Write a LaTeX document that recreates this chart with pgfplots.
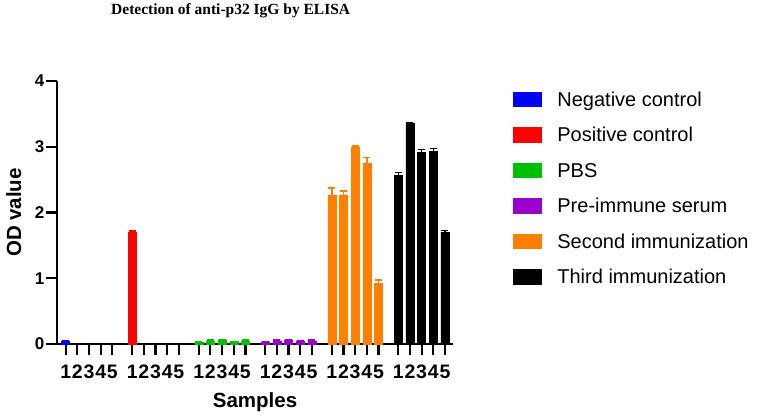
\documentclass[border=0pt]{standalone}
\usepackage{pgfplots}
\pgfplotsset{compat=1.18}
\usepackage{fontspec}
\setmainfont{Liberation Sans}
\newfontfamily\titlefont{Liberation Serif}
\definecolor{cblue}{RGB}{0,0,255}
\definecolor{cred}{RGB}{255,0,0}
\definecolor{cgreen}{RGB}{0,190,0}
\definecolor{cpurple}{RGB}{153,0,204}
\definecolor{corange}{RGB}{255,128,0}
\begin{document}
\begin{tikzpicture}
\useasboundingbox (0pt,0pt) rectangle (765pt,417pt);
\node[anchor=base west, font=\titlefont\bfseries\fontsize{15.5}{19}\selectfont, inner sep=0pt] at (111pt,402pt) {Detection of anti-p32 IgG by ELISA};
\begin{axis}[
  at={(57pt,73pt)}, anchor=south west,
  scale only axis, width=396pt, height=263pt,
  xmin=-0.745, xmax=33.19, ymin=0, ymax=4,
  axis lines=left,
  axis line style={-, line width=2.2pt},
  tick style={line width=2.2pt, black},
  major tick length=11pt, tick align=outside,
  ytick={0,1,2,3,4},
  xtick={0,1,2,3,4,5.7,6.7,7.7,8.7,9.7,11.4,12.4,13.4,14.4,15.4,17.1,18.1,19.1,20.1,21.1,22.8,23.8,24.8,25.8,26.8,28.5,29.5,30.5,31.5,32.5},
  xticklabels={1,2,3,4,5,1,2,3,4,5,1,2,3,4,5,1,2,3,4,5,1,2,3,4,5,1,2,3,4,5},
  /pgf/number format/assume math mode=true,
  tick label style={font=\fontsize{18}{21}\selectfont\bfseries},
  yticklabel style={inner xsep=1.5pt, font=\fontsize{17}{20}\selectfont\bfseries},
  xticklabel style={yshift=-9pt, inner ysep=1pt, font=\fontsize{19.5}{23}\selectfont\bfseries},
  xlabel={Samples}, ylabel={OD value},
  every axis x label/.style={at={(axis description cs:0.5,-0.243)}, anchor=base, font=\fontsize{20.5}{24}\selectfont\bfseries},
  every axis y label/.style={at={(axis description cs:-0.0909,0.5)}, rotate=90, anchor=base, font=\fontsize{20.5}{24}\selectfont\bfseries},
  ybar, bar width=8pt,
  legend image code/.code={\fill[#1] (0pt,-7.15pt) rectangle (28pt,7.15pt);},
  legend cell align=left,
  legend style={draw=none, fill=none, at={(1.1515,0.959)}, anchor=north west,
    inner sep=0pt, outer sep=0pt, row sep=20.8pt,
    font=\fontsize{20}{24}\selectfont,
    nodes={inner sep=0pt, text height=14.5pt, text depth=0pt},
    /tikz/every odd column/.append style={column sep=16pt}},
  error bars/y dir=plus, error bars/y explicit,
  error bars/error bar style={line width=1.5pt},
  error bars/error mark options={rotate=90, mark size=3.5pt, line width=1.5pt},
  clip=false,
]
\addplot[bar shift=0pt, fill=cblue, draw=cblue, error bars/error bar style={cblue, line width=1.5pt}] coordinates {(0,0.04) +- (0,0.01)};
\addlegendentry{Negative control}
\addplot[bar shift=0pt, fill=cred, draw=cred, error bars/error bar style={cred, line width=1.5pt}] coordinates {(5.7,1.70) +- (0,0.02)};
\addlegendentry{Positive control}
\addplot[bar shift=0pt, fill=cgreen, draw=cgreen, error bars/error bar style={cgreen, line width=1.5pt}] coordinates {
 (11.4,0.03) +- (0,0.005) (12.4,0.05) +- (0,0.01) (13.4,0.06) +- (0,0.01) (14.4,0.035) +- (0,0.005) (15.4,0.05) +- (0,0.01)};
\addlegendentry{PBS}
\addplot[bar shift=0pt, fill=cpurple, draw=cpurple, error bars/error bar style={cpurple, line width=1.5pt}] coordinates {
 (17.1,0.03) +- (0,0.005) (18.1,0.05) +- (0,0.01) (19.1,0.06) +- (0,0.01) (20.1,0.04) +- (0,0.005) (21.1,0.05) +- (0,0.01)};
\addlegendentry{Pre-immune serum}
\addplot[bar shift=0pt, fill=corange, draw=corange, error bars/error bar style={corange, line width=1.5pt}] coordinates {
 (22.8,2.26) +- (0,0.11) (23.8,2.27) +- (0,0.06) (24.8,2.99) +- (0,0.02) (25.8,2.75) +- (0,0.09) (26.8,0.92) +- (0,0.05)};
\addlegendentry{Second immunization}
\addplot[bar shift=0pt, fill=black, draw=black, error bars/error bar style={black, line width=1.5pt}] coordinates {
 (28.5,2.57) +- (0,0.04) (29.5,3.36) +- (0,0.01) (30.5,2.92) +- (0,0.04) (31.5,2.93) +- (0,0.04) (32.5,1.70) +- (0,0.03)};
\addlegendentry{Third immunization}
\end{axis}
\end{tikzpicture}
\end{document}
